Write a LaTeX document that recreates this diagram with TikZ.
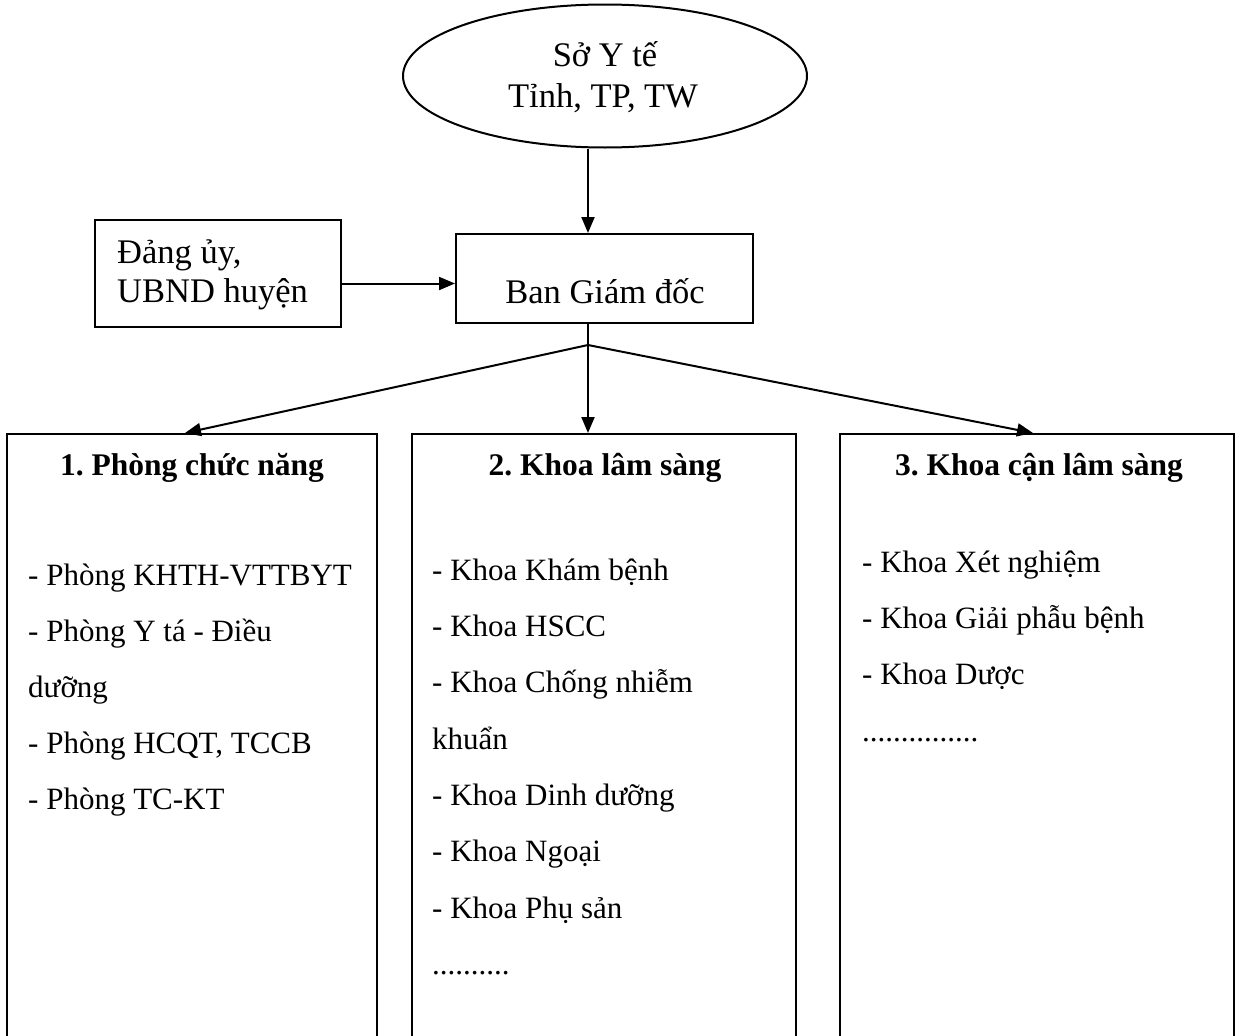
\documentclass[tikz,border=0pt]{standalone}
\usepackage{fontspec}
\setmainfont{Liberation Serif}
\frenchspacing
\usetikzlibrary{arrows.meta,shapes.geometric}
\begin{document}
\begin{tikzpicture}[x=1pt,y=-1pt,
  boxed/.style={draw, line width=2pt, rectangle, inner sep=0pt},
  arr/.style={line width=2pt, -{Triangle[length=16pt,width=13pt]}},
  big/.style={font=\fontsize{34.5}{40}\selectfont, inner sep=0pt},
  bodytxt/.style={font=\fontsize{31}{40}\selectfont, inner sep=0pt, anchor=base west},
  headtxt/.style={font=\fontsize{31.5}{40}\selectfont\bfseries, inner sep=0pt, anchor=base}]
\useasboundingbox (0,0) rectangle (1237,1036);
\clip (0,0) rectangle (1237,1036);

% top ellipse
\node[draw, ellipse, line width=2pt, minimum width=404pt, minimum height=143pt, inner sep=0pt] (sy) at (605,76) {};
\node[big, anchor=base] (sy1) at (605,66) {Sở Y tế};
\node[big, anchor=base] (sy2) at (603,107) {Tỉnh, TP, TW};

% Dang uy box
\node[boxed, minimum width=246pt, minimum height=107pt] (du) at (218,273.5) {};
\node[big, anchor=base west] (du1) at (117,263) {Đảng ủy,};
\node[big, anchor=base west] (du2) at (117,302) {UBND huyện};

% Ban Giam doc
\node[boxed, minimum width=297pt, minimum height=89pt] (ban) at (604.5,278.5) {};
\node[big, anchor=base] (ban1) at (605,303) {Ban Giám đốc};

% lower boxes
\node[boxed, minimum width=370pt, minimum height=640pt] (b1) at (192,754) {};
\node[boxed, minimum width=384pt, minimum height=640pt] (b2) at (604,754) {};
\node[boxed, minimum width=394pt, minimum height=640pt] (b3) at (1037,754) {};

\coordinate (split) at (588,345);

% headers
\node[headtxt] (h1) at (192,475) {1. Phòng chức năng};
\node[headtxt] (h2) at (605,475) {2. Khoa lâm sàng};
\node[headtxt] (h3) at (1039,475) {3. Khoa cận lâm sàng};

% box 1 body
\node[bodytxt] (p1) at (28,585) {- Phòng KHTH-VTTBYT};
\node[bodytxt] (p2) at (28,641) {- Phòng Y tá - Điều};
\node[bodytxt] (p3) at (28,697) {dưỡng};
\node[bodytxt] (p4) at (28,753) {- Phòng HCQT, TCCB};
\node[bodytxt] (p5) at (28,809) {- Phòng TC-KT};

% box 2 body
\node[bodytxt] (k1) at (432,580) {- Khoa Khám bệnh};
\node[bodytxt] (k2) at (432,636) {- Khoa HSCC};
\node[bodytxt] (k3) at (432,692) {- Khoa Chống nhiễm};
\node[bodytxt] (k4) at (432,749) {khuẩn};
\node[bodytxt] (k5) at (432,805) {- Khoa Dinh dưỡng};
\node[bodytxt] (k6) at (432,861) {- Khoa Ngoại};
\node[bodytxt] (k7) at (432,918) {- Khoa Phụ sản};
\node[bodytxt] (k8) at (432,974) {..........};

% box 3 body
\node[bodytxt] (c1) at (862,572) {- Khoa Xét nghiệm};
\node[bodytxt] (c2) at (862,628) {- Khoa Giải phẫu bệnh};
\node[bodytxt] (c3) at (862,684) {- Khoa Dược};
\node[bodytxt] (c4) at (862,741) {...............};

% connectors
\draw[arr] (sy.south -| split) -- (ban.north -| split);
\draw[arr] ([yshift=-10pt]du.east) -- ([yshift=-10pt]du.east -| ban.west);
\draw[arr] (ban.south -| split) -- (b2.north -| split);
\draw[arr] (split) -- ([xshift=-7pt]b1.north);
\draw[arr] (split) -- ([xshift=-4pt]b3.north);
\end{tikzpicture}
\end{document}
